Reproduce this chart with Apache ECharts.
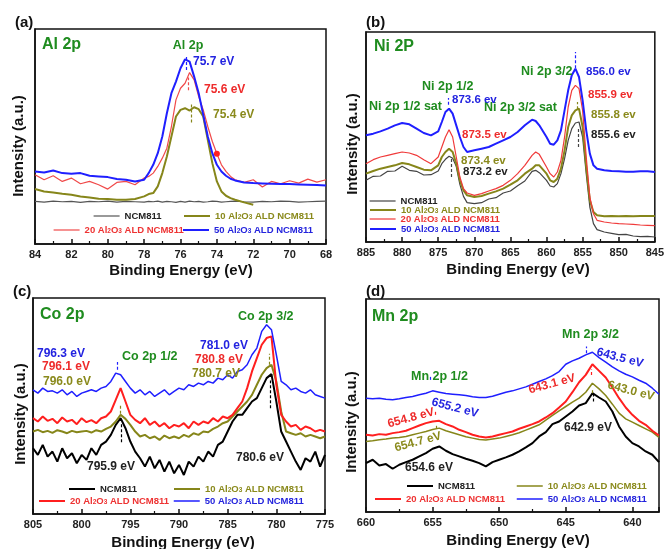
<!DOCTYPE html>
<html><head><meta charset="utf-8">
<script src="https://cdn.jsdelivr.net/npm/echarts@6/dist/echarts.min.js"></script>
<style>html,body{margin:0;padding:0;background:#fff}#c{width:667px;height:549px}</style>
</head><body><div id="c"></div>
<script>
// ---------- DATA (binding energy in eV, intensity in a.u.) ----------
const energyA = [84,83.5,83,82.5,82,81.5,81,80.5,80,79.5,79,78.5,78,77.75,77.5,77.25,77,76.75,76.5,76.25,76,75.75,75.5,75.25,75,74.75,74.5,74.25,74,73.75,73.5,73.25,73,72.5,72,71.5,71,70.5,70,69.5,69,68.5,68];
const alNCM = [128,126,129,127,128,125,128,127,129,126,128,127,126,128,127,129,126,128,127,125,128,126,129,127,128,126,127,129,128,126,127,128,129,127,126,128,127,129,128,126,127,128,129];
const al10 = [165,158,155,151,148,143,140,136,135,133,133,135,143,150,153,173,213,263,323,383,403,408,401,411,405,383,313,243,188,158,145,138,133,125,118,null,null,null,null,null,null,null,null];
const al20 = [208,193,205,188,198,181,188,178,165,185,188,178,198,203,213,233,258,288,353,433,468,483,515,493,443,403,353,308,271,238,218,203,193,185,193,171,188,181,190,183,195,186,193];
const al50 = [218,215,221,213,211,213,205,203,201,195,193,188,193,213,238,273,323,393,453,488,528,555,548,503,453,388,323,273,238,218,205,196,191,185,183,182,181,180,180,179,178,177,176];

const energyB = [885,884,883,882,881,880,879,878,877,876,875,874.5,874,873.5,873,872.5,872,871.5,871,870,869,868,867,866,865,864,863,862,861.5,861,860,859.5,859,858.5,858,857.5,857,856.5,856,855.5,855,854.5,854,853.5,853,852,851,850,849,848,847,846,845];
const niNCM = [185,197,198,212,213,227,215,212,201,202,213,235,248,257,251,227,173,137,118,115,118,129,133,147,153,169,183,212,215,208,185,168,165,175,205,250,305,340,357,360,315,205,105,55,37,30,26,22,23,18,16,17,15];
const ni10 = [205,213,220,225,230,237,233,225,217,215,230,255,270,280,270,235,185,155,140,135,138,145,152,160,172,185,205,220,230,230,205,185,180,190,220,275,345,380,395,400,345,225,125,90,80,77,78,77,78,77,78,78,78];
const ni20 = [235,247,255,260,265,270,267,260,247,235,255,285,315,337,315,255,195,160,147,140,145,153,160,170,185,205,230,260,270,263,225,205,195,210,245,315,405,455,470,460,395,255,135,85,65,60,57,55,54,53,51,50,49];
const ni50 = [320,325,332,340,350,357,353,340,327,320,332,360,390,400,385,350,315,285,270,275,280,285,295,305,315,330,350,367,363,350,315,295,292,305,335,395,455,500,520,495,425,335,265,230,220,215,213,212,211,211,212,212,210];

const energyC = [805,804.5,804,803.5,803,802.5,802,801.5,801,800.5,800,799.5,799,798.5,798,797.5,797,796.5,796,795.5,795,794.5,794,793.5,793,792.5,792,791.5,791,790.5,790,789.5,789,788.5,788,787.5,787,786.5,786,785.5,785,784.5,784,783.5,783,782.5,782,781.5,781,780.5,780,779.5,779,778.5,778,777.5,777,776.5,776,775.5,775];
const coNCM = [197,177,207,172,187,157,197,167,182,152,177,162,197,177,207,217,237,267,287,257,217,187,167,142,172,137,162,127,157,122,147,117,157,142,172,157,187,172,207,217,247,277,297,297,317,337,347,377,407,419,337,247,217,187,157,132,167,157,187,142,177];
const co10 = [247,252,245,249,243,251,247,242,249,245,247,249,244,251,247,255,262,277,297,285,267,247,232,237,227,232,222,235,227,232,227,237,231,242,237,247,245,255,262,272,277,292,307,322,337,357,387,417,437,447,397,307,247,242,237,242,232,237,232,227,232];
const co20 = [287,277,292,279,285,272,289,277,282,269,287,275,281,272,287,292,307,342,377,337,297,282,272,287,267,277,262,272,257,267,262,272,257,277,267,277,272,287,277,292,287,297,317,337,377,427,467,507,527,532,387,297,277,262,267,252,262,257,247,252,247];
const co50 = [372,362,377,367,369,362,372,357,367,352,362,367,372,367,377,382,397,422,417,397,377,362,372,357,367,352,362,372,357,367,377,372,387,382,392,387,397,392,407,402,417,407,427,432,447,477,497,547,567,552,477,397,387,372,377,367,362,372,357,352,347];

const energyD = [660,659.5,659,658.5,658,657.5,657,656.5,656,655.5,655,654.5,654,653.5,653,652.5,652,651.5,651,650.5,650,649.5,649,648.5,648,647.5,647,646.5,646,645.5,645,644.5,644,643.5,643,642.5,642,641.5,641,640.5,640,639.5,639,638.5,638];
const mnNCM = [147,157,140,144,130,142,150,157,167,177,190,197,184,174,167,160,154,147,137,150,157,164,172,182,194,207,227,240,264,272,287,302,320,327,357,344,332,302,257,227,207,197,182,172,150];
const mn10 = [212,214,217,219,222,224,227,232,237,242,248,252,244,238,232,226,222,218,216,219,222,227,232,238,246,254,262,276,290,304,317,330,342,360,387,370,350,324,297,280,270,260,250,240,224];
const mn20 = [232,230,234,232,237,240,244,252,260,267,272,274,264,257,247,240,232,227,224,227,232,237,242,250,257,264,272,284,297,314,332,360,390,412,444,424,404,374,342,314,292,274,262,244,230];
const mn50 = [342,340,342,339,337,340,344,347,352,357,364,360,356,354,352,350,346,344,344,348,354,360,364,370,376,384,392,400,410,422,444,454,462,472,480,464,450,436,424,414,406,396,387,372,354];

// peak marker dashes: [panel, sample index 0..3, energy, from, to]
const peakMarks = [
  ['a',3,75.7,523,568],['a',2,75.55,462,500],['a',1,75.4,365,425],
  ['b',3,856.0,521,570],['b',3,873.6,412,432],['b',0,873.2,195,250],['b',0,855.6,285,345],['b',1,855.8,398,420],
  ['c',3,796.3,432,455],['c',0,795.9,215,270],['c',0,780.6,317,400],['c',1,780.7,447,480],['c',1,796.0,300,330],
  ['d',3,643.5,477,497],['d',3,655.2,397,412],['d',2,654.8,292,307],['d',2,643.1,412,428],['d',1,643.0,357,372],['d',0,642.9,332,357],['d',1,654.7,250,262]
];
const sampleLabels = ['NCM811','10 Al{s|2}O{s|3} ALD NCM811','20 Al{s|2}O{s|3} ALD NCM811','50 Al{s|2}O{s|3} ALD NCM811'];
const peakTexts = {
  a: [['Al 2p','g'],['75.7 eV','b'],['75.6 eV','r'],['75.4 eV','o']],
  b: [['Ni 2p 1/2','g'],['Ni 2p 1/2 sat','g'],['Ni 2p 3/2 sat','g'],['Ni 2p 3/2','g'],['873.6 ev','b'],['873.5 ev','r'],['873.4 ev','o'],['873.2 ev','k'],['856.0 ev','b'],['855.9 ev','r'],['855.8 ev','o'],['855.6 ev','k']],
  c: [['Co 2p 1/2','g'],['Co 2p 3/2','g'],['796.3 eV','b'],['796.1 eV','r'],['796.0 eV','o'],['781.0 eV','b'],['780.8 eV','r'],['780.7 eV','o'],['795.9 eV','k'],['780.6 eV','k']],
  d: [['Mn 2p 3/2','g'],['Mn 2p 1/2','g'],['643.5 eV','b'],['655.2 eV','b'],['654.8 eV','r'],['643.1 eV','r'],['643.0 eV','o'],['654.7 eV','o'],['642.9 eV','k'],['654.6 eV','k']]
};

// ---------- LAYOUT / STYLE ----------
const FONT = '"Liberation Sans", Arial, Helvetica, sans-serif';
const TXT = {g:'#1f8c1f', b:'#2323e0', r:'#ee2b2b', o:'#8a8a1c', k:'#222'};
const legendColors = ['#222','#8a8a1c','#ee3333','#2424dd'];
const panels = [
  {key:'a', title:'Al 2p', letter:'(a)', energy:energyA, vals:[alNCM,al10,al20,al50], grid:{left:35,top:29,width:291,height:215}, xMin:68, xMax:84, interval:2, yMax:646,
   widths:[1.2,2,1.2,2], colors:['#555','#86861a','#f04a4a','#1f1fff'],
   legend:[[93,217],[183,217],[53,231],[182,231]], titlePos:[42,45], letterPos:[15,23], xName:[181,271], yName:[19,146],
   textPos:[[188,46,'c'],[193,62],[204,90],[213,115]]},
  {key:'b', title:'Ni 2P', letter:'(b)', energy:energyB, vals:[niNCM,ni10,ni20,ni50], grid:{left:366,top:32,width:294,height:210}, xMin:845, xMax:885, interval:5, yMax:630,
   widths:[1.2,2,1.2,2], colors:['#444','#86861a','#f03a3a','#1f1fff'],
   legend:[[369,202],[369,211],[369,220],[369,230]], titlePos:[374,47], letterPos:[366,23], xName:[518,270], yName:[353,144],
   textPos:[[422,87],[369,107],[484,108],[521,72],[452,100],[462,135],[461,161],[463,172],[586,72],[588,95],[591,115],[591,135]]},
  {key:'c', title:'Co 2p', letter:'(c)', energy:energyC, vals:[coNCM,co10,co20,co50], grid:{left:33,top:298,width:292,height:216}, xMin:775, xMax:805, interval:5, yMax:647,
   widths:[2,2,2,1.5], colors:['#000','#86861a','#ff1f1f','#1f1fff'],
   legend:[[68,490],[173,490],[38,502],[173,502]], titlePos:[40,315], letterPos:[13,292], xName:[183,543], yName:[21,414],
   textPos:[[122,357],[238,317],[37,354],[42,367],[43,382],[200,346],[195,360],[192,374],[87,467],[236,458]]},
  {key:'d', title:'Mn 2p', letter:'(d)', energy:energyD, vals:[mnNCM,mn10,mn20,mn50], grid:{left:366,top:299,width:293,height:213}, xMin:638, xMax:660, interval:null, yMax:640,
   widths:[2,1.5,2,1.5], colors:['#000','#86861a','#ff1f1f','#1f1fff'],
   legend:[[406,487],[516,487],[374,500],[516,500]], titlePos:[372,317], letterPos:[366,292], xName:[518,541], yName:[352,422],
   textPos:[[562,335],[411,377],[620,358,'c',-15],[455,408,'c',-15],[411,418,'c',15],[552,384,'c',15],[631,391,'c',-15],[418,442,'c',15],[588,428,'c'],[429,468,'c']]}
];

const grids=[], xAxes=[], yAxes=[], series=[], legends=[], graphics=[];
function txt(text, x, y, color, size, align, rotDeg){
  graphics.push({type:'text', x:x, y:y, rotation:(rotDeg||0)*Math.PI/180, z:100,
    style:{text:text, x:0, y:0, fill:color, font:'bold '+size+'px '+FONT, align:align||'left', verticalAlign:'middle', textAlign:align||'left', textVerticalAlign:'middle'}});
}
panels.forEach((p,i)=>{
  grids.push(Object.assign({show:true, borderColor:'#111', borderWidth:1.5, backgroundColor:'transparent', containLabel:false}, p.grid));
  const xa = {type:'value', gridIndex:i, inverse:true, min:p.xMin, max:p.xMax,
    axisLine:{show:true, onZero:false, lineStyle:{color:'#111', width:1.5}},
    axisTick:{show:true, inside:true, length:5, lineStyle:{color:'#111', width:1.5}},
    minorTick:{show:true, splitNumber:2, length:3, lineStyle:{color:'#111', width:1.2}},
    axisLabel:{margin:5, fontSize:11, fontWeight:'bold', color:'#222', fontFamily:FONT, showMinLabel: p.interval!==null},
    splitLine:{show:false}};
  if (p.interval) xa.interval = p.interval; else xa.splitNumber = 5;
  xAxes.push(xa);
  yAxes.push({type:'value', gridIndex:i, min:0, max:p.yMax, axisLine:{show:true, lineStyle:{color:'#111', width:1.5}}, axisTick:{show:false}, axisLabel:{show:false}, splitLine:{show:false}});
  p.vals.forEach((v,k)=>{
    const name = p.key+k;
    const s = {type:'line', name:name, xAxisIndex:i, yAxisIndex:i, symbol:'none', showSymbol:false, animation:false, z:2+k,
      data:p.energy.map((e,j)=>[e, v[j]]), lineStyle:{color:p.colors[k], width:p.widths[k]}, itemStyle:{color:p.colors[k]}};
    const marks = peakMarks.filter(m=>m[0]===p.key && m[1]===k);
    if (marks.length) s.markLine = {silent:true, symbol:'none', animation:false, label:{show:false},
      lineStyle:{type:[3,2], width:1.2, color:p.colors[k]},
      data:marks.map(m=>[{coord:[m[2],m[3]]},{coord:[m[2],m[4]]}])};
    if (p.key==='a' && k===2) s.markPoint = {symbol:'circle', symbolSize:6, animation:false, label:{show:false}, itemStyle:{color:'#ff2020'}, data:[{coord:[74.0,271]}]};
    series.push(s);
    const col = legendColors[k];
    legends.push({data:[name], left:p.legend[k][0], top:p.legend[k][1]-6, padding:0, itemWidth:26, itemHeight:10, selectedMode:false,
      itemStyle:{opacity:0, borderWidth:0},
      lineStyle:{color:p.colors[k], width:p.widths[k], opacity:1},
      formatter:()=>sampleLabels[k],
      textStyle:{color:col, fontSize:9.5, fontWeight:'bold', fontFamily:FONT,
        rich:{s:{fontSize:6.5, fontWeight:'bold', fontFamily:FONT, color:col, verticalAlign:'bottom'}}}});
  });
  txt(p.letter, p.letterPos[0], p.letterPos[1], '#111', 15);
  txt(p.title, p.titlePos[0], p.titlePos[1], TXT.g, 16);
  txt('Binding Energy (eV)', p.xName[0], p.xName[1], '#111', 15, 'center');
  txt('Intensity (a.u.)', p.yName[0], p.yName[1], '#111', 15, 'center', 90);
  peakTexts[p.key].forEach((t,j)=>{
    const pos = p.textPos[j];
    const size = t[1]==='g' ? 12.5 : (p.key==='b' ? 11.5 : 12);
    txt(t[0], pos[0], pos[1], TXT[t[1]], size, pos[2]==='c'?'center':'left', pos[3]||0);
  });
});

const chart = echarts.init(document.getElementById('c'), null, {renderer:'canvas'});
chart.setOption({animation:false, backgroundColor:'#fff', grid:grids, xAxis:xAxes, yAxis:yAxes, series:series, legend:legends, graphic:graphics});
</script></body></html>
